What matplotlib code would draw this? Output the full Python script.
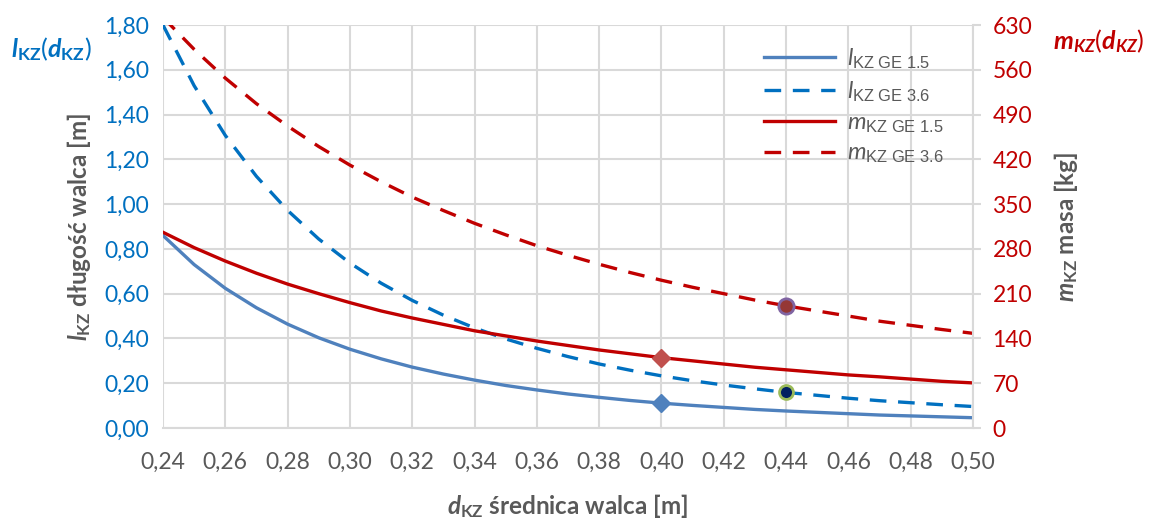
import matplotlib
matplotlib.use('Agg')
import matplotlib.pyplot as plt
from matplotlib.ticker import FixedLocator, FuncFormatter

# diameter d_KZ [m]
d_kz = [0.24, 0.25, 0.26, 0.27, 0.28, 0.29, 0.30, 0.31, 0.32, 0.33, 0.34, 0.35, 0.36, 0.37,
        0.38, 0.39, 0.40, 0.41, 0.42, 0.43, 0.44, 0.45, 0.46, 0.47, 0.48, 0.49, 0.50]
# roll length [m]
l_ge15 = [0.860, 0.730, 0.624, 0.537, 0.464, 0.403, 0.352, 0.309, 0.272, 0.241, 0.214, 0.190, 0.170, 0.152,
          0.137, 0.123, 0.111, 0.101, 0.092, 0.083, 0.076, 0.070, 0.064, 0.058, 0.054, 0.050, 0.046]
l_ge36 = [1.800, 1.529, 1.307, 1.124, 0.972, 0.844, 0.737, 0.647, 0.570, 0.504, 0.447, 0.398, 0.356, 0.319,
          0.286, 0.258, 0.233, 0.211, 0.192, 0.175, 0.159, 0.146, 0.133, 0.122, 0.113, 0.104, 0.096]
# mass [kg]
m_ge15 = [306, 282, 261, 242, 225, 210, 196, 183, 172, 162, 152, 144, 136, 129,
          122, 116, 110, 105, 100, 95, 91, 87, 83, 80, 76.5, 73, 70.5]
m_ge36 = [642, 592, 547, 507, 472, 440, 411, 385, 361, 340, 320, 302, 285, 270,
          256, 243, 231, 220, 210, 200, 191, 183, 175, 167, 160.5, 154, 148]

# highlighted points
pt_l15 = (0.40, 0.111)
pt_m15 = (0.40, 110)
pt_l36 = (0.44, 0.159)
pt_m36 = (0.44, 191)

x_ticks = [0.24, 0.26, 0.28, 0.30, 0.32, 0.34, 0.36, 0.38, 0.40, 0.42, 0.44, 0.46, 0.48, 0.50]
l_ticks = [0.0, 0.2, 0.4, 0.6, 0.8, 1.0, 1.2, 1.4, 1.6, 1.8]
m_ticks = [0, 70, 140, 210, 280, 350, 420, 490, 560, 630]

BLUE1 = '#4f81bd'
BLUE2 = '#0070c0'
RED = '#c00000'
GREY = '#595959'
GRID = '#d9d9d9'

plt.rcParams['font.family'] = 'Lato'
plt.rcParams['mathtext.fontset'] = 'custom'
plt.rcParams['mathtext.rm'] = 'Lato'
plt.rcParams['mathtext.it'] = 'Lato:italic'
plt.rcParams['mathtext.bf'] = 'Lato:bold'
plt.rcParams['mathtext.bfit'] = 'Lato:italic:bold'
plt.rcParams['mathtext.sf'] = 'Liberation Sans'


def comma(v, pos):
    return ('%.2f' % v).replace('.', ',')


fig = plt.figure(figsize=(11.51, 5.19), dpi=100)
ax = fig.add_axes([0.1416, 0.1753, 0.7038, 0.7765])
ax2 = ax.twinx()

ax.plot(d_kz, l_ge15, color=BLUE1, lw=2.4, label=r'$\mathit{l}_{\mathsf{KZ\ GE\ 1.5}}$')
ax.plot(d_kz, l_ge36, color=BLUE2, lw=2.4, dashes=(5, 3.5), label=r'$\mathit{l}_{\mathsf{KZ\ GE\ 3.6}}$')
ax2.plot(d_kz, m_ge15, color=RED, lw=2.4, label=r'$\mathit{m}_{\mathsf{KZ\ GE\ 1.5}}$')
ax2.plot(d_kz, m_ge36, color=RED, lw=2.4, dashes=(5, 3.5), label=r'$\mathit{m}_{\mathsf{KZ\ GE\ 3.6}}$')

ax.plot(*pt_l15, marker='D', ms=9, color=BLUE1, mec=BLUE1, zorder=5)
ax.plot(*pt_l36, marker='o', ms=10, color='#002060', mec='#9bbb59', mew=2, zorder=5)
ax2.plot(*pt_m15, marker='D', ms=9, color='#c0504d', mec='#c0504d', zorder=5)
ax2.plot(*pt_m36, marker='o', ms=11, color='#953735', mec='#8064a2', mew=2, zorder=5)

ax.set_xlim(0.24, 0.50)
ax.set_ylim(0, 1.8)
ax2.set_ylim(0, 630)
ax.xaxis.set_major_locator(FixedLocator(x_ticks))
ax.yaxis.set_major_locator(FixedLocator(l_ticks))
ax2.yaxis.set_major_locator(FixedLocator(m_ticks))
ax.xaxis.set_major_formatter(FuncFormatter(comma))
ax.yaxis.set_major_formatter(FuncFormatter(comma))

ax.grid(True, color=GRID, lw=1.5)
ax.set_axisbelow(True)

for s in ['top', 'left', 'right']:
    ax.spines[s].set_visible(False)
ax.spines['bottom'].set_color(GRID)
ax.spines['bottom'].set_linewidth(1.5)
for s in ['top', 'left', 'bottom']:
    ax2.spines[s].set_visible(False)
ax2.spines['right'].set_color(GRID)
ax2.spines['right'].set_linewidth(1.5)

ax.tick_params(axis='x', length=0, labelsize=16.5, labelcolor=GREY, pad=17)
ax.tick_params(axis='y', length=0, labelsize=16.5, labelcolor=BLUE2, pad=10)
ax2.tick_params(axis='y', length=6, width=1.5, color=GRID, labelsize=16.5, labelcolor=RED, pad=8)

ax.set_xlabel(r'$\mathbfit{d}_{\mathbf{KZ}}$ średnica walca [m]', fontsize=17.5, fontweight='bold',
              color=GREY, labelpad=14)
ax.set_ylabel(r'$\mathbfit{l}_{\mathbf{KZ}}$ długość walca [m]', fontsize=17.5, fontweight='bold',
              color=GREY, labelpad=8)
ax2.set_ylabel(r'$\mathbfit{m}_{\mathbf{KZ}}$ masa [kg]', fontsize=17.5, fontweight='bold',
               color=GREY, labelpad=14)

fig.text(0.045, 0.905, r'$\mathbfit{l}_{\mathbf{KZ}}(\mathbfit{d}_{\mathbf{KZ}})$', fontsize=18,
         color=BLUE2, ha='center', va='center')
fig.text(0.955, 0.92, r'$\mathbfit{m}_{\mathbfit{KZ}}(\mathbfit{d}_{\mathbfit{KZ}})$', fontsize=18,
         color=RED, ha='center', va='center')

h1, lab1 = ax.get_legend_handles_labels()
h2, lab2 = ax2.get_legend_handles_labels()
leg = ax2.legend(h1 + h2, lab1 + lab2, loc='upper right', bbox_to_anchor=(0.99, 1.0), frameon=False,
                 handlelength=3.0, labelspacing=0.35, handletextpad=0.5,
                 prop={'family': 'Liberation Sans', 'size': 17})
for t in leg.get_texts():
    t.set_color(GREY)

fig.savefig('out.png', dpi=100)
